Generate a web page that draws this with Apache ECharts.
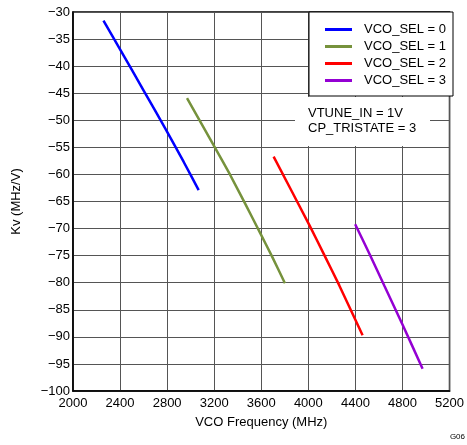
<!DOCTYPE html>
<html><head><meta charset="utf-8">
<script src="https://cdn.jsdelivr.net/npm/echarts@6/dist/echarts.min.js"></script>
<style>html,body{margin:0;padding:0;background:#fff}#c{width:467px;height:445px}</style>
</head><body><div id="c"></div>
<script>
const seriesNames = ['VCO_SEL = 0', 'VCO_SEL = 1', 'VCO_SEL = 2', 'VCO_SEL = 3'];
const sel0 = [[2259, -31.6], [2400, -36.9], [2603, -44.6], [2786, -51.6], [2941, -57.7], [3068, -62.9]];
const sel1 = [[2969, -45.9], [3203, -54.9], [3336, -60.1], [3463, -65.4], [3590, -70.8], [3688, -75.0], [3801, -80.1]];
const sel2 = [[3705, -56.7], [4010, -69.4], [4136, -74.9], [4263, -80.5], [4461, -89.7]];
const sel3 = [[4398, -69.2], [4520, -74.7], [4647, -80.6], [4802, -87.8], [4971, -95.9]];
const colors = ['#0000ff', '#76923c', '#ff0000', '#9400d3'];
const xAxisName = 'VCO Frequency (MHz)';
const yAxisName = 'Kv (MHz/V)';
const noteText = 'VTUNE_IN = 1V\nCP_TRISTATE = 3';

const font = 'Liberation Sans, Arial, sans-serif';
const chart = echarts.init(document.getElementById('c'), null, {renderer: 'canvas'});
const allData = [sel0, sel1, sel2, sel3];
chart.setOption({
  animation: false,
  backgroundColor: '#fff',
  grid: {left: 73, right: 14, top: 12, bottom: 54, show: true, borderColor: '#000', borderWidth: 1.5},
  xAxis: {
    type: 'value', min: 2000, max: 5200, interval: 400,
    name: xAxisName, nameLocation: 'middle', nameGap: 25,
    nameTextStyle: {fontFamily: font, fontSize: 13, color: '#000'},
    axisLine: {show: true, lineStyle: {color: '#000', width: 1.5}},
    axisTick: {show: false},
    axisLabel: {fontFamily: font, fontSize: 13, color: '#000', margin: 6, formatter: v => String(v)},
    splitLine: {show: true, lineStyle: {color: '#555', width: 1}}
  },
  yAxis: {
    type: 'value', min: -100, max: -30, interval: 5,
    name: yAxisName, nameLocation: 'middle', nameGap: 50,
    nameTextStyle: {fontFamily: font, fontSize: 13, color: '#000'},
    axisLine: {show: true, lineStyle: {color: '#000', width: 1.5}},
    axisTick: {show: false},
    axisLabel: {fontFamily: font, fontSize: 13, color: '#000', margin: 3,
      formatter: v => v < 0 ? '\u2212' + Math.abs(v) : String(v)},
    splitLine: {show: true, lineStyle: {color: '#555', width: 1}}
  },
  legend: {
    data: seriesNames, orient: 'vertical', left: 320, top: 16, z: 100,
    icon: 'rect', itemWidth: 27, itemHeight: 3, itemGap: 0,
    textStyle: {fontFamily: font, fontSize: 13, color: '#000', lineHeight: 17, padding: [0, 0, 0, 7]}
  },
  graphic: [
    {type: 'rect', z: 50, shape: {x: 309, y: 12, width: 144, height: 84}, style: {fill: '#fff', stroke: '#000', lineWidth: 1}},
    {type: 'rect', z: 50, shape: {x: 295, y: 97, width: 135, height: 49}, style: {fill: '#fff'}},
    {type: 'text', z: 51, x: 308, y: 106, style: {text: noteText, font: '13px ' + font, fill: '#000', lineHeight: 15}},
    {type: 'text', z: 51, right: 2, bottom: 4, style: {text: 'G06', font: '8px ' + font, fill: '#000'}}
  ],
  series: allData.map((d, i) => ({
    name: seriesNames[i], type: 'line', data: d, symbol: 'none', z: 10, smooth: 0.2,
    lineStyle: {color: colors[i], width: 2.5}, itemStyle: {color: colors[i]}
  }))
});
</script></body></html>
